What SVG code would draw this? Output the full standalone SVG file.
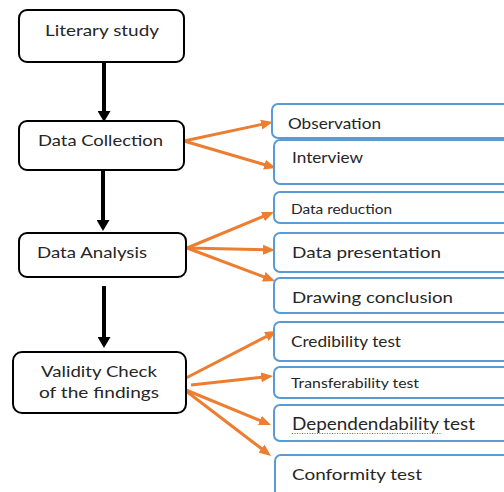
<svg xmlns="http://www.w3.org/2000/svg" width="504" height="492" viewBox="0 0 504 492">
  <style>
    .lbox { fill: #ffffff; stroke: #000000; stroke-width: 2; }
    .rbox { fill: #ffffff; stroke: #5b9bd5; stroke-width: 2; }
    .t { font-family: Lato, "Liberation Sans", sans-serif; fill: #262626; }
    .blk { stroke: #000000; stroke-width: 4; fill: none; marker-end: url(#bhead); }
    .org { stroke: #ed7d31; stroke-width: 3; fill: none; marker-end: url(#ohead); }
  </style>
  <defs>
    <marker id="bhead" markerUnits="userSpaceOnUse" markerWidth="11" markerHeight="13" refX="3" refY="6.5" orient="auto">
      <path d="M0,0 L11,6.5 L0,13 z" fill="#000000"/>
    </marker>
    <marker id="ohead" markerUnits="userSpaceOnUse" markerWidth="12" markerHeight="10" refX="3" refY="5" orient="auto">
      <path d="M0,0 L12,5 L0,10 z" fill="#ed7d31"/>
    </marker>
  </defs>
  <rect width="504" height="492" fill="#ffffff"/>

  <g id="connectors">
    <line class="blk" x1="104" y1="62" x2="104" y2="114"/>
    <line class="blk" x1="103" y1="170" x2="103" y2="223"/>
    <line class="blk" x1="104" y1="286" x2="104" y2="340"/>

    <line class="org" x1="184" y1="141" x2="264.2" y2="123.9"/>
    <line class="org" x1="184" y1="141" x2="267.4" y2="165.5"/>
    <line class="org" x1="187" y1="248" x2="265.7" y2="215.4"/>
    <line class="org" x1="187" y1="248" x2="266" y2="249.8"/>
    <line class="org" x1="187" y1="248" x2="266.6" y2="277.8"/>
    <line class="org" x1="186" y1="378" x2="269" y2="335.1"/>
    <line class="org" x1="191" y1="385" x2="264.1" y2="377"/>
    <line class="org" x1="186" y1="390" x2="262.7" y2="421.6"/>
    <line class="org" x1="186" y1="391" x2="263.9" y2="450.5"/>
  </g>

  <g id="literary-study">
    <rect class="lbox" x="19" y="10" width="165" height="52" rx="8"/>
    <text class="t" x="45" y="36" font-size="16" textLength="114" lengthAdjust="spacingAndGlyphs">Literary study</text>
  </g>
  <g id="data-collection">
    <rect class="lbox" x="19" y="121" width="165" height="49" rx="8"/>
    <text class="t" x="38" y="146" font-size="16" textLength="125" lengthAdjust="spacingAndGlyphs">Data Collection</text>
  </g>
  <g id="data-analysis">
    <rect class="lbox" x="19" y="233" width="167" height="44" rx="8"/>
    <text class="t" x="37" y="258" font-size="16" textLength="110" lengthAdjust="spacingAndGlyphs">Data Analysis</text>
  </g>
  <g id="validity-check">
    <rect class="lbox" x="13" y="352" width="173" height="61" rx="9"/>
    <text class="t" x="41" y="377" font-size="16" textLength="116" lengthAdjust="spacingAndGlyphs">Validity Check</text>
    <text class="t" x="39" y="398" font-size="16" textLength="120" lengthAdjust="spacingAndGlyphs">of the findings</text>
  </g>

  <g id="observation">
    <rect class="rbox" x="272" y="104" width="250" height="34" rx="6"/>
    <text class="t" x="288" y="129" font-size="15" textLength="93" lengthAdjust="spacingAndGlyphs">Observation</text>
  </g>
  <g id="interview">
    <rect class="rbox" x="274" y="140" width="250" height="44" rx="6"/>
    <text class="t" x="292" y="163" font-size="15" textLength="71" lengthAdjust="spacingAndGlyphs">Interview</text>
  </g>
  <g id="data-reduction">
    <rect class="rbox" x="274" y="192" width="250" height="31" rx="6"/>
    <text class="t" x="291" y="214" font-size="13.5" textLength="101" lengthAdjust="spacingAndGlyphs">Data reduction</text>
  </g>
  <g id="data-presentation">
    <rect class="rbox" x="274" y="233" width="250" height="39" rx="6"/>
    <text class="t" x="292" y="258" font-size="16" textLength="149" lengthAdjust="spacingAndGlyphs">Data presentation</text>
  </g>
  <g id="drawing-conclusion">
    <rect class="rbox" x="274" y="278" width="250" height="35" rx="6"/>
    <text class="t" x="292" y="303" font-size="16" textLength="161" lengthAdjust="spacingAndGlyphs">Drawing conclusion</text>
  </g>
  <g id="credibility-test">
    <rect class="rbox" x="274" y="322" width="250" height="39" rx="6"/>
    <text class="t" x="291" y="347" font-size="15" textLength="110" lengthAdjust="spacingAndGlyphs">Credibility test</text>
  </g>
  <g id="transferability-test">
    <rect class="rbox" x="274" y="367" width="250" height="31" rx="6"/>
    <text class="t" x="291" y="388" font-size="13" textLength="128" lengthAdjust="spacingAndGlyphs">Transferability test</text>
  </g>
  <g id="dependendability-test">
    <rect class="rbox" x="274" y="405" width="250" height="36" rx="6"/>
    <text class="t" x="292" y="430" font-size="17" textLength="183" lengthAdjust="spacingAndGlyphs">Dependendability test</text>
    <line x1="292" y1="433.5" x2="441" y2="433.5" stroke="#e04040" stroke-width="1" stroke-dasharray="1 1.5"/>
  </g>
  <g id="conformity-test">
    <rect class="rbox" x="275" y="455" width="250" height="50" rx="6"/>
    <text class="t" x="292" y="480" font-size="16" textLength="130" lengthAdjust="spacingAndGlyphs">Conformity test</text>
  </g>
</svg>
